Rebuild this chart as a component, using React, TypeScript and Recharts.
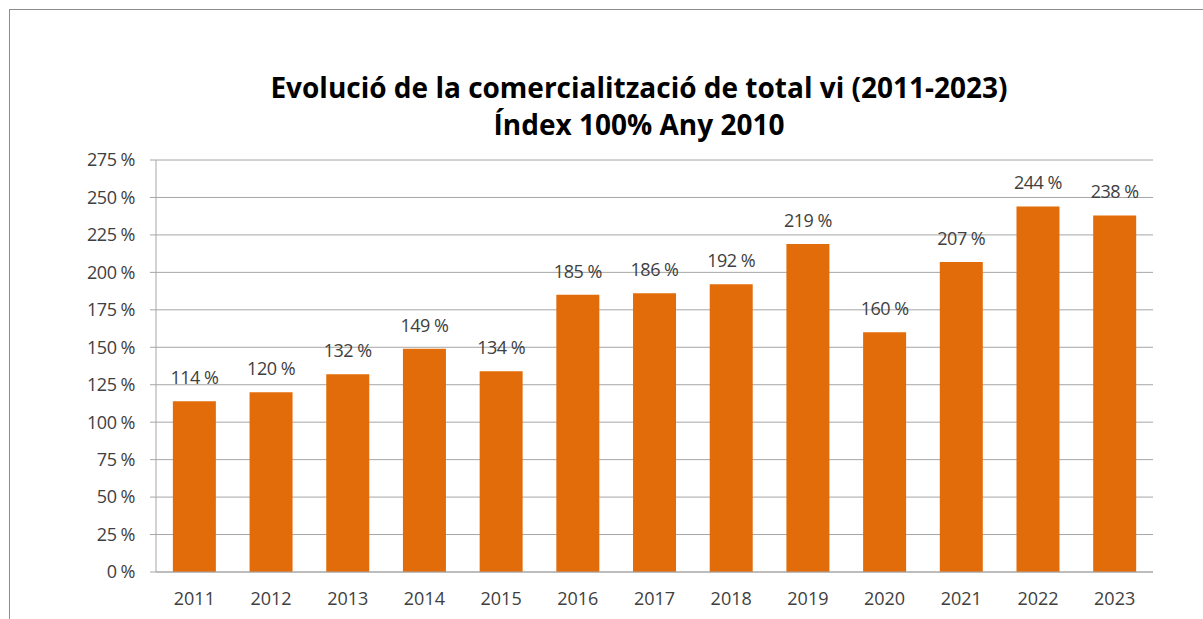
import React from 'react';
import { BarChart, Bar, XAxis, YAxis, CartesianGrid, LabelList } from 'recharts';

const years = ['2011', '2012', '2013', '2014', '2015', '2016', '2017', '2018', '2019', '2020', '2021', '2022', '2023'];
const indexValues = [114, 120, 132, 149, 134, 185, 186, 192, 219, 160, 207, 244, 238];
const yTicks = [0, 25, 50, 75, 100, 125, 150, 175, 200, 225, 250, 275];

const titleLines = ['Evolució de la comercialització de total vi (2011-2023)', 'Índex 100% Any 2010'];

const FONT = '"Open Sans", "Noto Sans", sans-serif';
const BAR_COLOR = '#E36C0A';
const GRID_COLOR = '#A6A6A6';
const TEXT_COLOR = '#404040';

const chartData = years.map((year, i) => ({ year, value: indexValues[i] }));

// plain text label so the value does not wrap to the bar width
const ValueLabel = (props: any) => {
  const { x, y, width, value } = props;
  return (
    <text
      x={x + width / 2}
      y={y - 17}
      textAnchor="middle"
      fill={TEXT_COLOR}
      fontSize={18}
      fontFamily={FONT}
      letterSpacing={-0.5}
    >
      {`${value} %`}
    </text>
  );
};

const App: React.FC = () => {
  return (
    <div style={{ position: 'absolute', left: 0, top: 0, width: 1203, height: 619, background: '#fff', fontFamily: FONT, overflow: 'hidden' }}>
      {/* outer frame, runs off the right and bottom edge */}
      <div style={{ position: 'absolute', left: 9, top: 9, width: 1250, height: 700, border: '1px solid #8C8C8C' }} />
      <svg width={1203} height={150} style={{ position: 'absolute', left: 0, top: 0 }}>
        {titleLines.map((line, i) => (
          <text
            key={i}
            x={639}
            y={98 + i * 37}
            textAnchor="middle"
            fontFamily={FONT}
            fontWeight="bold"
            fontSize={28}
            fill="#000"
          >
            {line}
          </text>
        ))}
      </svg>
      <div style={{ position: 'absolute', left: 0, top: 0 }}>
        <BarChart
          width={1203}
          height={619}
          data={chartData}
          margin={{ top: 160, right: 50, bottom: 0, left: 0 }}
          barCategoryGap="22%"
        >
          <CartesianGrid vertical={false} stroke={GRID_COLOR} />
          <XAxis
            dataKey="year"
            height={47}
            tickLine={false}
            tickSize={0}
            tickMargin={20}
            axisLine={{ stroke: GRID_COLOR }}
            tick={{ fill: TEXT_COLOR, fontSize: 18, fontFamily: FONT }}
            interval={0}
          />
          <YAxis
            width={156}
            domain={[0, 275]}
            ticks={yTicks}
            interval={0}
            tickSize={6}
            tickMargin={15}
            tickLine={{ stroke: GRID_COLOR }}
            axisLine={{ stroke: GRID_COLOR }}
            tickFormatter={(v: number) => `${v} %`}
            tick={{ fill: TEXT_COLOR, fontSize: 18, fontFamily: FONT, letterSpacing: -0.5 }}
          />
          <Bar dataKey="value" fill={BAR_COLOR} isAnimationActive={false}>
            <LabelList dataKey="value" content={ValueLabel} />
          </Bar>
        </BarChart>
      </div>
    </div>
  );
};

export default App;
